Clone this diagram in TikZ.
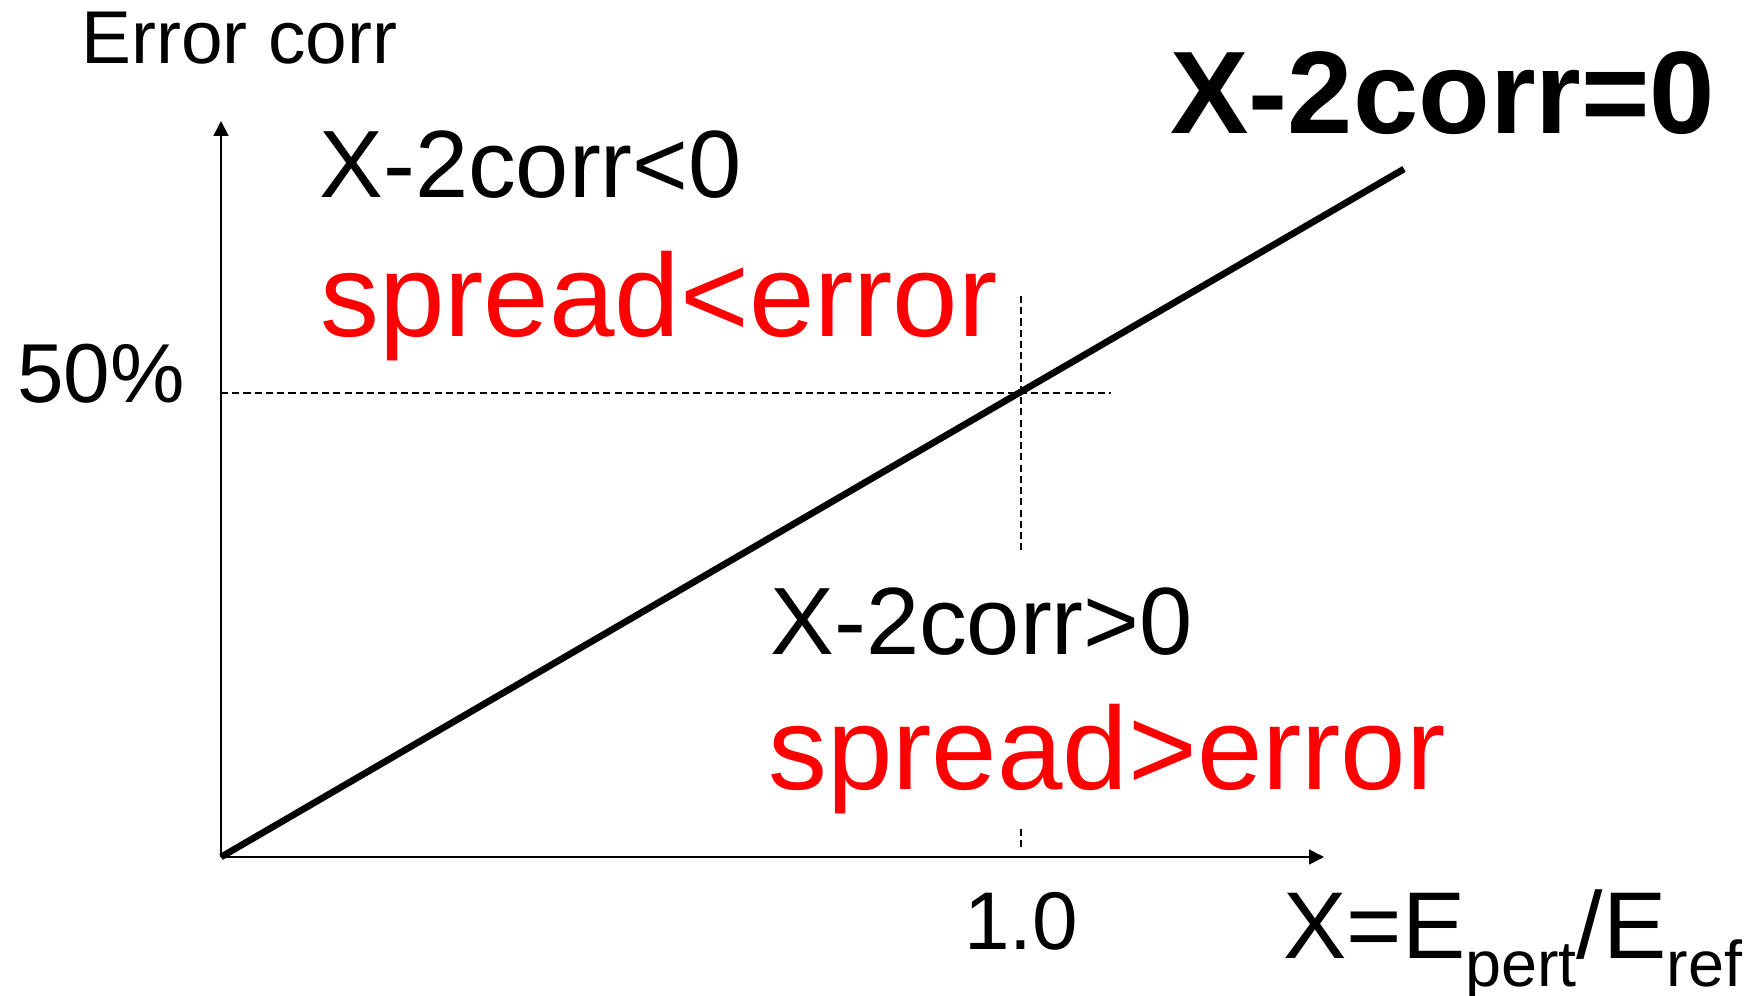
\documentclass[tikz,border=0pt]{standalone}
\usepackage{fontspec}
\setmainfont{Liberation Sans}
\usetikzlibrary{arrows.meta, calc}

\newcommand{\sizedtext}[2]{\fontsize{#1}{#1}\selectfont #2}
\newcommand{\lowsub}[1]{\raisebox{-8pt}{\fontsize{18.4pt}{19pt}\selectfont #1}}

\begin{document}
\begin{tikzpicture}[thick, >={Triangle[length=4.2pt,width=4.2pt]}]

    % Custom styles for axes, guides and labels
    \tikzset{
        axis/.style={line width=0.45pt, ->},
        guide/.style={line width=0.35pt, dash pattern=on 2pt off 1.2pt},
        boundary/.style={line width=1.9pt},
        lbl/.style={inner sep=0pt, anchor=base west},
        warnlbl/.style={lbl, text=red}
    }

    \useasboundingbox (0,0) rectangle (17.6,9.95);

    % ==========================================
    % Key points
    % ==========================================
    \coordinate (O) at (2.21,1.38);
    \coordinate (ytop) at (2.21,8.74);
    \coordinate (xend) at (13.24,1.38);
    \coordinate (lineend) at (14.04,8.26);
    \coordinate (cross) at (10.21,6.02);
    \coordinate (hend) at (11.11,6.02);
    \coordinate (vtop) at (10.21,6.99);
    \coordinate (vbot) at (10.21,4.43);
    \coordinate (ticktop) at (10.21,1.66);
    \coordinate (tickbot) at (10.21,1.45);

    % Axes
    \draw[axis] (O) -- (ytop);
    \draw[axis] (O) -- (xend);

    % Guide lines through X=1, 50%
    \draw[guide] (O |- cross) -- (hend);
    \draw[guide] (vtop) -- (vbot);
    \draw[guide] (ticktop) -- (tickbot);

    % Boundary X-2corr=0
    \draw[boundary] (O) -- (lineend);

    % Axis Labels
    \node[lbl] (ylab) at (0.80,9.31) {\sizedtext{21.3pt}{Error corr}};
    \node[lbl] (half) at (0.16,5.93) {\sizedtext{23.8pt}{50\%}};
    \node[inner sep=0pt, anchor=base] (one) at (10.21,0.46) {\sizedtext{23.3pt}{1.0}};
    \node[lbl] (xlab) at (12.82,0.37)
        {\sizedtext{27pt}{X=E\lowsub{pert}/E\lowsub{ref}}};

    % Region labels
    \node[lbl] (upper) at (3.18,7.98) {\sizedtext{27.2pt}{X-2corr<0}};
    \node[warnlbl] (upperred) at (3.19,6.58) {\sizedtext{33.5pt}{spread<error}};
    \node[lbl] (lower) at (7.69,3.41) {\sizedtext{27.2pt}{X-2corr>0}};
    \node[warnlbl] (lowerred) at (7.67,2.06) {\sizedtext{33.5pt}{spread>error}};
    \node[lbl, font=\bfseries] (zero) at (11.69,8.62) {\sizedtext{33.4pt}{X-2corr=0}};

\end{tikzpicture}
\end{document}
